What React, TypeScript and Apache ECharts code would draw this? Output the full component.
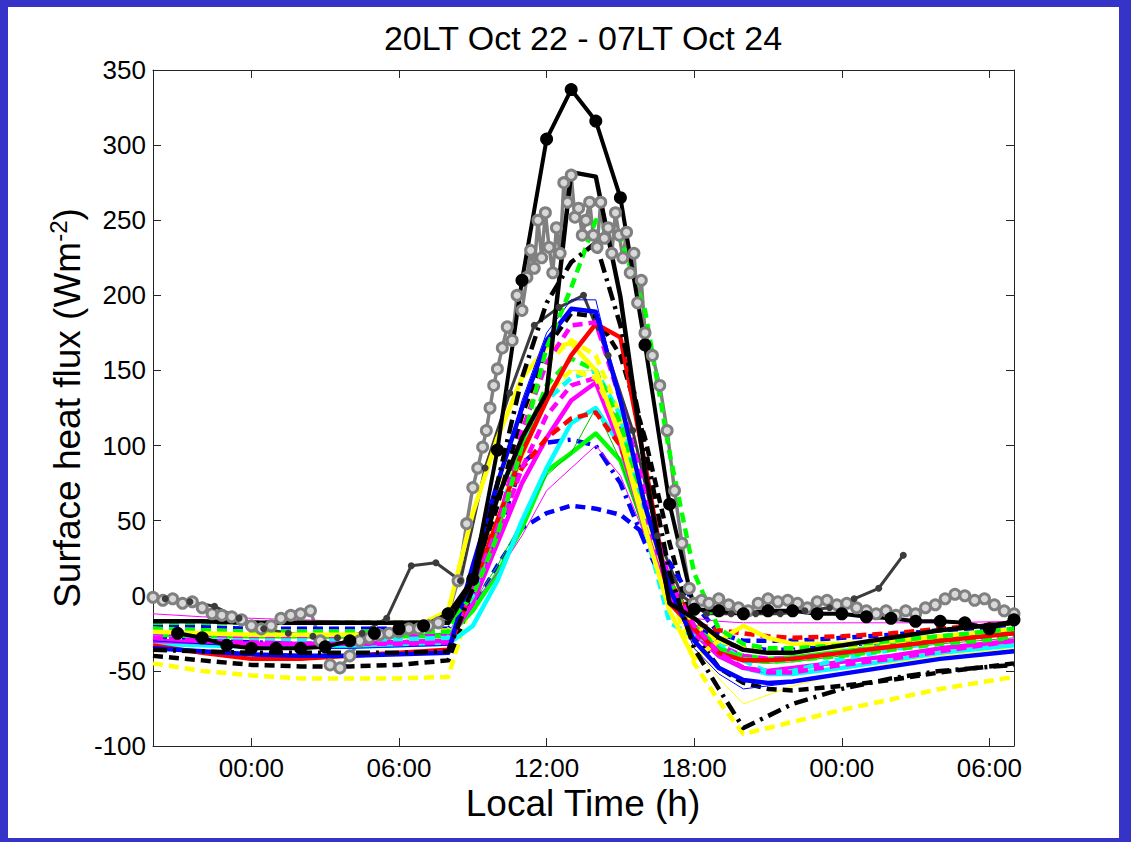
import React, { useEffect, useRef } from "react";
import * as echarts from "echarts";

// ---------- axes ----------
const TICK_HOURS = [24, 30, 36, 42, 48, 54];
const TICK_LABELS = ["00:00", "06:00", "12:00", "18:00", "00:00", "06:00"];
const TITLE = "20LT Oct 22 - 07LT Oct 24";
const X_TITLE = "Local Time (h)";

// ---------- model output hours (hours since Oct 22 00LT) ----------
const HOURS = [20, 22, 24, 26, 28, 30, 32, 33, 34, 35, 36, 37, 38, 39, 40, 41, 42, 43, 44, 45, 46, 48, 50, 52, 55];

const blackSolid = [-17, -17, -18, -18, -18, -18, -18, 10, 65, 105, 135, 282, 279, 199, 83, -5, -15, -28, -36, -38, -38, -33, -28, -23, -18];
const blackDashDot = [-36, -37, -38, -38, -38, -38, -37, 5, 75, 145, 195, 222, 235, 180, 100, 15, -35, -62, -88, -80, -72, -62, -55, -50, -46];
const blackDashed = [-40, -43, -46, -47, -47, -46, -43, 0, 60, 120, 165, 188, 186, 160, 105, 35, -25, -48, -58, -62, -63, -60, -56, -51, -45];
const blueSolid = [-35, -37, -39, -40, -40, -39, -38, 20, 75, 125, 170, 191, 189, 130, 60, 5, -30, -48, -56, -58, -57, -52, -47, -42, -37];
const blueDashed = [-20, -21, -22, -22, -22, -22, -22, -8, 20, 45, 55, 60, 58, 54, 41, 22, -5, -25, -30, -30, -30, -28, -26, -23, -20];
const blueDashDot = [-28, -30, -31, -32, -32, -31, -30, -5, 40, 88, 102, 104, 100, 75, 35, 0, -20, -30, -35, -36, -36, -33, -30, -27, -24];
const blueThin = [-30, -32, -34, -35, -35, -34, -33, 10, 70, 130, 175, 197, 197, 130, 60, 5, -35, -52, -62, -60, -58, -52, -47, -42, -36];
const redSolid = [-33, -38, -42, -42, -40, -38, -36, 5, 50, 95, 130, 160, 181, 172, 88, -5, -22, -38, -43, -43, -42, -38, -34, -30, -25];
const redDashed = [-18, -18, -18, -18, -18, -18, -18, 10, 50, 85, 105, 118, 122, 100, 55, 10, -18, -23, -25, -27, -28, -27, -25, -22, -18];
const greenSolid = [-26, -27, -27, -27, -27, -27, -27, -10, 15, 45, 83, 95, 108, 90, 45, 5, -22, -35, -40, -42, -41, -37, -33, -29, -25];
const greenDashed = [-18, -18, -18, -18, -18, -18, -18, 0, 40, 100, 165, 205, 250, 238, 190, 95, 15, -22, -32, -35, -35, -33, -30, -27, -22];
const greenDashed2 = [-22, -23, -24, -24, -24, -24, -24, 5, 45, 100, 140, 158, 150, 115, 60, 10, -20, -35, -42, -44, -43, -40, -36, -32, -28];
const cyanSolid = [-32, -33, -34, -34, -34, -33, -32, -20, 10, 50, 85, 115, 125, 100, 50, 5, -22, -40, -48, -52, -52, -48, -43, -38, -33];
const cyanDashed = [-28, -29, -30, -30, -30, -29, -28, 0, 50, 100, 130, 145, 150, 120, 45, -18, -27, -32, -43, -51, -50, -42, -36, -30, -23];
const magentaSolid = [-30, -31, -32, -32, -32, -31, -30, -5, 35, 75, 105, 130, 142, 100, 45, 0, -25, -40, -48, -50, -48, -44, -40, -35, -30];
const magentaDashed = [-28, -30, -31, -32, -32, -32, -32, 5, 45, 110, 155, 180, 182, 130, 70, 10, -20, -38, -48, -51, -51, -46, -42, -37, -30];
const magentaDashed2 = [-25, -26, -27, -27, -27, -27, -27, 0, 40, 85, 120, 140, 145, 110, 55, 5, -22, -33, -40, -42, -42, -38, -34, -30, -26];
const yellowSolid = [-24, -25, -26, -26, -26, -26, -10, 55, 105, 145, 165, 168, 150, 105, 45, -10, -42, -30, -20, -28, -32, -32, -30, -27, -22];
const yellowDashed = [-45, -50, -53, -55, -55, -55, -54, 0, 70, 120, 155, 170, 160, 120, 60, 5, -45, -70, -92, -88, -84, -76, -69, -62, -54];
const yellowDashed2 = [-22, -23, -24, -24, -24, -24, -23, 5, 50, 100, 135, 150, 145, 110, 55, 5, -20, -30, -35, -37, -37, -34, -31, -28, -24];
const magentaThin = [-12, -14, -15, -16, -17, -17, -17, -5, 15, 40, 70, 85, 100, 80, 40, 0, -15, -17, -18, -18, -18, -18, -18, -18, -17];
const greenThin = [-24, -25, -26, -26, -26, -26, -25, -5, 20, 50, 80, 95, 125, 90, 40, 0, -25, -38, -44, -45, -44, -40, -36, -32, -28];
const yellowThin = [-26, -27, -28, -28, -28, -28, -27, 0, 40, 90, 130, 150, 150, 110, 50, 0, -35, -55, -72, -66, -60, -52, -45, -40, -35];

// ---------- observations ----------
// grey: high-frequency flux observations (hollow circles)
const GREY_HOURS = [20.0, 20.4, 20.8, 21.2, 21.6, 22.0, 22.4, 22.8, 23.2, 23.6, 24.0, 24.4, 24.8, 25.2, 25.6, 26.0, 26.4, 26.8, 27.2, 27.6, 28.0, 28.4, 28.8, 29.2, 29.6, 30.0, 30.4, 30.8, 31.2, 31.6, 32.0, 32.4, 32.75, 33.0, 33.2, 33.4, 33.55, 33.7, 33.85, 34.0, 34.2, 34.4, 34.6, 34.8, 35.0, 35.2, 35.35, 35.5, 35.65, 35.8, 35.95, 36.1, 36.25, 36.4, 36.55, 36.7, 36.85, 37.0, 37.15, 37.3, 37.45, 37.6, 37.75, 37.9, 38.05, 38.2, 38.35, 38.5, 38.65, 38.8, 38.95, 39.1, 39.25, 39.4, 39.55, 39.7, 39.85, 40.0, 40.3, 40.6, 40.9, 41.2, 41.5, 41.8, 42.0, 42.3, 42.6, 43.0, 43.4, 43.8, 44.2, 44.6, 45.0, 45.4, 45.8, 46.2, 46.6, 47.0, 47.4, 47.8, 48.2, 48.6, 49.0, 49.4, 49.8, 50.2, 50.6, 51.0, 51.4, 51.8, 52.2, 52.6, 53.0, 53.4, 53.8, 54.2, 54.6, 55.0];
const GREY_FLUX = [-1, -3, -2, -5, -4, -8, -12, -13, -14, -16, -20, -22, -20, -15, -13, -12, -10, -30, -46, -48, -40, -30, -28, -26, -25, -24, -22, -22, -20, -18, -12, 10, 48, 72, 85, 99, 110, 125, 140, 151, 165, 179, 170, 200, 190, 212, 230, 218, 250, 225, 255, 232, 215, 245, 228, 275, 262, 280, 252, 258, 240, 250, 262, 240, 232, 262, 238, 245, 228, 255, 240, 225, 242, 215, 228, 195, 210, 175, 160, 140, 110, 70, 35, 5, -5, -3, -5, -2, -6, -8, -10, -5, -2, -4, -3, -5, -8, -4, -3, -6, -5, -8, -10, -12, -10, -13, -10, -12, -8, -6, -2, 1, 0, -3, -2, -6, -10, -12];

// dark grey: second observation record (small dots)
const DARK_HOURS = [20.5, 21.5, 22.5, 23.5, 24.5, 25.5, 26.5, 27.5, 28.5, 29.5, 30.5, 31.5, 32.5, 33.5, 34.5, 35.5, 36.5, 37.5, 38.5, 39.5, 40.5, 41.5, 42.5, 43.5, 44.5, 45.5, 46.5, 47.5, 48.5, 49.5, 50.5];
const DARK_FLUX = [-2, -4, -7, -15, -22, -25, -27, -28, -25, -15, 20, 22, 10, 85, 135, 180, 192, 200, 160, 110, 40, 0, -12, -12, -12, -12, -10, -8, -2, 5, 27];

// black: hourly reference (large dots)
const REF_HOURS = [21, 22, 23, 24, 25, 26, 27, 28, 29, 30, 31, 32, 33, 34, 35, 36, 37, 38, 39, 40, 41, 42, 43, 44, 45, 46, 47, 48, 49, 50, 51, 52, 53, 54, 55];
const REF_FLUX = [-25, -28, -33, -35, -35, -35, -34, -30, -25, -22, -20, -12, 11, 97, 210, 304, 337, 316, 265, 167, 61, -9, -10, -12, -10, -10, -12, -12, -14, -15, -17, -17, -18, -22, -16];

const DASH = [10, 6];
const DASHDOT = [14, 6, 3, 6];

type Model = { name: string; color: string; type: any; width: number; values: number[] };
const MODELS: Model[] = [
  { name: "yellow dashed", color: "#ffff00", type: DASH, width: 4.5, values: yellowDashed },
  { name: "yellow thin", color: "#ffff00", type: "solid", width: 1, values: yellowThin },
  { name: "black dashed", color: "#000000", type: DASH, width: 4.5, values: blackDashed },
  { name: "blue dashed", color: "#0000ff", type: DASH, width: 4.5, values: blueDashed },
  { name: "blue dash-dot", color: "#0000ff", type: DASHDOT, width: 4.5, values: blueDashDot },
  { name: "green solid", color: "#00ff00", type: "solid", width: 4.5, values: greenSolid },
  { name: "green thin", color: "#00c000", type: "solid", width: 1, values: greenThin },
  { name: "magenta thin", color: "#ff00ff", type: "solid", width: 1, values: magentaThin },
  { name: "cyan solid", color: "#00ffff", type: "solid", width: 4.5, values: cyanSolid },
  { name: "magenta solid", color: "#ff00ff", type: "solid", width: 4.5, values: magentaSolid },
  { name: "red dashed", color: "#ff0000", type: DASH, width: 4.5, values: redDashed },
  { name: "magenta dashed 2", color: "#ff00ff", type: DASH, width: 4.5, values: magentaDashed2 },
  { name: "cyan dashed", color: "#00ffff", type: DASH, width: 4.5, values: cyanDashed },
  { name: "yellow dashed 2", color: "#ffff00", type: DASH, width: 4.5, values: yellowDashed2 },
  { name: "green dashed 2", color: "#00ff00", type: DASH, width: 4.5, values: greenDashed2 },
  { name: "yellow solid", color: "#ffff00", type: "solid", width: 4.5, values: yellowSolid },
  { name: "red solid", color: "#ff0000", type: "solid", width: 4.5, values: redSolid },
  { name: "magenta dashed", color: "#ff00ff", type: DASH, width: 4.5, values: magentaDashed },
  { name: "blue thin", color: "#0000ff", type: "solid", width: 1, values: blueThin },
  { name: "blue solid", color: "#0000ff", type: "solid", width: 4.5, values: blueSolid },
  { name: "green dashed", color: "#00ff00", type: DASH, width: 4.5, values: greenDashed },
  { name: "black dash-dot", color: "#000000", type: DASHDOT, width: 4.5, values: blackDashDot },
  { name: "black solid", color: "#000000", type: "solid", width: 4.5, values: blackSolid },
];

const FONT = "'Liberation Sans', Arial, Helvetica, sans-serif";
const FRAME = "#3633c8";

export default function App() {
  const ref = useRef<HTMLDivElement>(null);

  useEffect(() => {
    const chart = echarts.init(ref.current!, null, { renderer: "svg" });

    const pair = (hs: number[], vs: number[]) => hs.map((h, i) => [h, vs[i]]);

    const series: any[] = [];
    series.push({
      name: "obs grey",
      type: "line",
      data: pair(GREY_HOURS, GREY_FLUX),
      symbol: "circle",
      symbolSize: 10,
      showSymbol: true,
      lineStyle: { color: "#808080", width: 3.5 },
      itemStyle: { color: "#d8d8d8", borderColor: "#808080", borderWidth: 3 },
      silent: true,
    });
    series.push({
      name: "obs dark",
      type: "line",
      data: pair(DARK_HOURS, DARK_FLUX),
      symbol: "circle",
      symbolSize: 7,
      showSymbol: true,
      lineStyle: { color: "#3c3c3c", width: 3 },
      itemStyle: { color: "#3c3c3c" },
      silent: true,
    });
    MODELS.forEach((m) => {
      series.push({
        name: m.name,
        type: "line",
        data: pair(HOURS, m.values),
        symbol: "none",
        showSymbol: false,
        lineStyle: { color: m.color, width: m.width, type: m.type, cap: "butt", join: "round" },
        silent: true,
      });
    });
    series.push({
      name: "reference",
      type: "line",
      data: pair(REF_HOURS, REF_FLUX),
      symbol: "circle",
      symbolSize: 13,
      showSymbol: true,
      lineStyle: { color: "#000000", width: 4 },
      itemStyle: { color: "#000000" },
      silent: true,
    });

    const axisLineStyle = { color: "#262626", width: 1 };

    const option: any = {
      animation: false,
      backgroundColor: "#ffffff",
      grid: { left: 153, right: 117, top: 70, bottom: 96, containLabel: false },
      xAxis: [
        {
          type: "value",
          min: 20,
          max: 55,
          position: "bottom",
          axisLine: { show: true, onZero: false, lineStyle: axisLineStyle },
          axisTick: { show: true, inside: true, length: 8, customValues: TICK_HOURS, lineStyle: axisLineStyle },
          axisLabel: {
            show: true,
            customValues: TICK_HOURS,
            formatter: (v: number) => {
              const i = TICK_HOURS.indexOf(Math.round(v));
              return i >= 0 ? TICK_LABELS[i] : "";
            },
            fontSize: 26,
            fontFamily: FONT,
            color: "#000",
            margin: 9,
          },
          splitLine: { show: false },
        },
        {
          type: "value",
          min: 20,
          max: 55,
          position: "top",
          axisLine: { show: true, onZero: false, lineStyle: axisLineStyle },
          axisTick: { show: true, inside: true, length: 8, customValues: TICK_HOURS, lineStyle: axisLineStyle },
          axisLabel: { show: false },
          splitLine: { show: false },
        },
      ],
      yAxis: [
        {
          type: "value",
          min: -100,
          max: 350,
          interval: 50,
          position: "left",
          axisLine: { show: true, onZero: false, lineStyle: axisLineStyle },
          axisTick: { show: true, inside: true, length: 8, lineStyle: axisLineStyle },
          axisLabel: { fontSize: 26, fontFamily: FONT, color: "#000", margin: 7 },
          splitLine: { show: false },
        },
        {
          type: "value",
          min: -100,
          max: 350,
          interval: 50,
          position: "right",
          axisLine: { show: true, onZero: false, lineStyle: axisLineStyle },
          axisTick: { show: true, inside: true, length: 8, lineStyle: axisLineStyle },
          axisLabel: { show: false },
          splitLine: { show: false },
        },
      ],
      graphic: [
        { type: "rect", shape: { x: 0, y: 0, width: 1131, height: 7 }, style: { fill: FRAME }, silent: true },
        { type: "rect", shape: { x: 0, y: 0, width: 8, height: 842 }, style: { fill: FRAME }, silent: true },
        { type: "rect", shape: { x: 1119, y: 0, width: 12, height: 842 }, style: { fill: FRAME }, silent: true },
        { type: "rect", shape: { x: 0, y: 838, width: 1131, height: 4 }, style: { fill: FRAME }, silent: true },
        {
          type: "text",
          x: 583,
          y: 38,
          style: { text: TITLE, fontSize: 34, fontFamily: FONT, fill: "#000", align: "center", verticalAlign: "middle" },
          silent: true,
        },
        {
          type: "text",
          x: 583,
          y: 803,
          style: { text: X_TITLE, fontSize: 37, fontFamily: FONT, fill: "#000", align: "center", verticalAlign: "middle" },
          silent: true,
        },
        {
          type: "text",
          x: 67,
          y: 408,
          rotation: Math.PI / 2,
          style: {
            text: "Surface heat flux (Wm{sup|-2})",
            fontSize: 37,
            fontFamily: FONT,
            fill: "#000",
            align: "center",
            verticalAlign: "middle",
            rich: {
              sup: { fontSize: 24, fontFamily: FONT, fill: "#000", verticalAlign: "top", padding: [0, 0, 18, 0] },
            },
          },
          silent: true,
        },
      ],
      series,
    };

    chart.setOption(option);
    return () => chart.dispose();
  }, []);

  return (
    <div
      ref={ref}
      style={{ position: "fixed", left: 0, top: 0, width: 1131, height: 842, background: "#fff" }}
    />
  );
}
